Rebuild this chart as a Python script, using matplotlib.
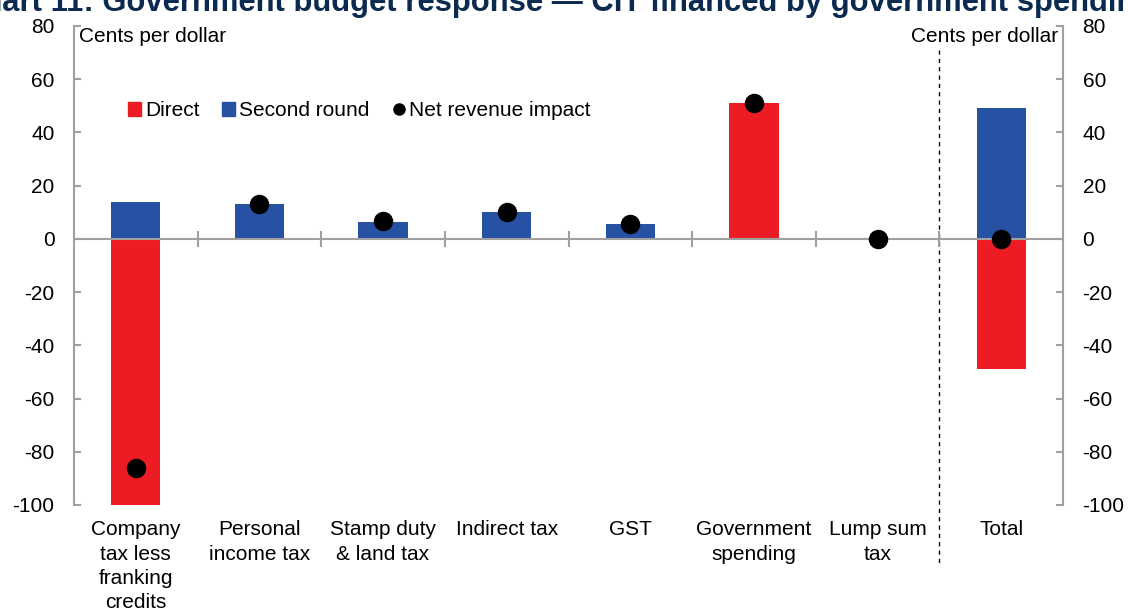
import numpy as np
import matplotlib
matplotlib.use('Agg')
import matplotlib.pyplot as plt
from matplotlib.lines import Line2D
from matplotlib.patches import Patch

plt.rcParams['font.family'] = ['Liberation Sans', 'DejaVu Sans']
plt.rcParams['axes.unicode_minus'] = False

# Daten
categories = ['Company\ntax less\nfranking\ncredits', 'Personal\nincome tax', 'Stamp duty\n& land tax',
              'Indirect tax', 'GST', 'Government\nspending', 'Lump sum\ntax', 'Total']
direct = [-100, 0, 0, 0, 0, 51, 0, -49]
second_round = [14, 13, 6.5, 10, 5.5, 0, 0, 49]
net_impact = [-86, 13, 6.8, 10, 5.5, 51, 0, 0]
y_ticks = list(range(-100, 81, 20))

red = '#ED1C24'
blue = '#2751A3'
grey = '#A0A0A0'
fs = 15

fig = plt.figure(figsize=(11.28, 6.11), dpi=100)
ax = fig.add_axes([0.0655, 0.1735, 0.877, 0.784])

x = np.arange(len(categories))
ax.bar(x, direct, width=0.4, color=red, zorder=2)
ax.bar(x, second_round, width=0.4, color=blue, zorder=2)
ax.plot(x, net_impact, 'o', color='black', markersize=13, zorder=4, clip_on=False)

# Nulllinie mit Trennstrichen
ax.axhline(0, color=grey, linewidth=1.5, zorder=3)
ax.plot(x[:-1] + 0.5, np.zeros(len(x) - 1), '|', color=grey, markersize=11, markeredgewidth=1.5, zorder=3)

# gestrichelte Linie vor "Total"
ax.plot([x[-1] - 0.5, x[-1] - 0.5], [71, -123], color='black', linewidth=1, dashes=(3, 3), clip_on=False)

ax.set_xlim(-0.5, len(categories) - 0.5)
ax.set_ylim(-100, 80)
ax.set_yticks(y_ticks)
ax.set_xticks(x)
ax.set_xticklabels(categories, fontsize=fs, linespacing=1.35)
ax.tick_params(axis='x', length=0, pad=11)
ax.tick_params(axis='y', direction='in', length=5, width=1.5, color=grey, labelsize=fs, pad=14,
               right=True, labelright=True)

for s in ['top', 'bottom']:
    ax.spines[s].set_visible(False)
for s in ['left', 'right']:
    ax.spines[s].set_color(grey)
    ax.spines[s].set_linewidth(1.5)

ax.text(0.005, 0.998, 'Cents per dollar', transform=ax.transAxes, fontsize=fs, va='top', ha='left')
ax.text(0.995, 0.998, 'Cents per dollar', transform=ax.transAxes, fontsize=fs, va='top', ha='right')

handles = [Patch(color=red, label='Direct'), Patch(color=blue, label='Second round'),
           Line2D([], [], marker='o', color='black', linestyle='', markersize=8, label='Net revenue impact')]
ax.legend(handles=handles, loc='center left', bbox_to_anchor=(0.036, 0.823), ncol=3, frameon=False,
          fontsize=fs, handlelength=0.6, handleheight=0.6, handletextpad=0.2, columnspacing=1.1)

fig.text(-0.035, 0.982, 'Chart 11: Government budget response \u2014 CIT financed by government spending',
         fontsize=22.3, fontweight='bold', color='#0B2A4F', ha='left', va='baseline')

fig.savefig('out.png', dpi=100)
